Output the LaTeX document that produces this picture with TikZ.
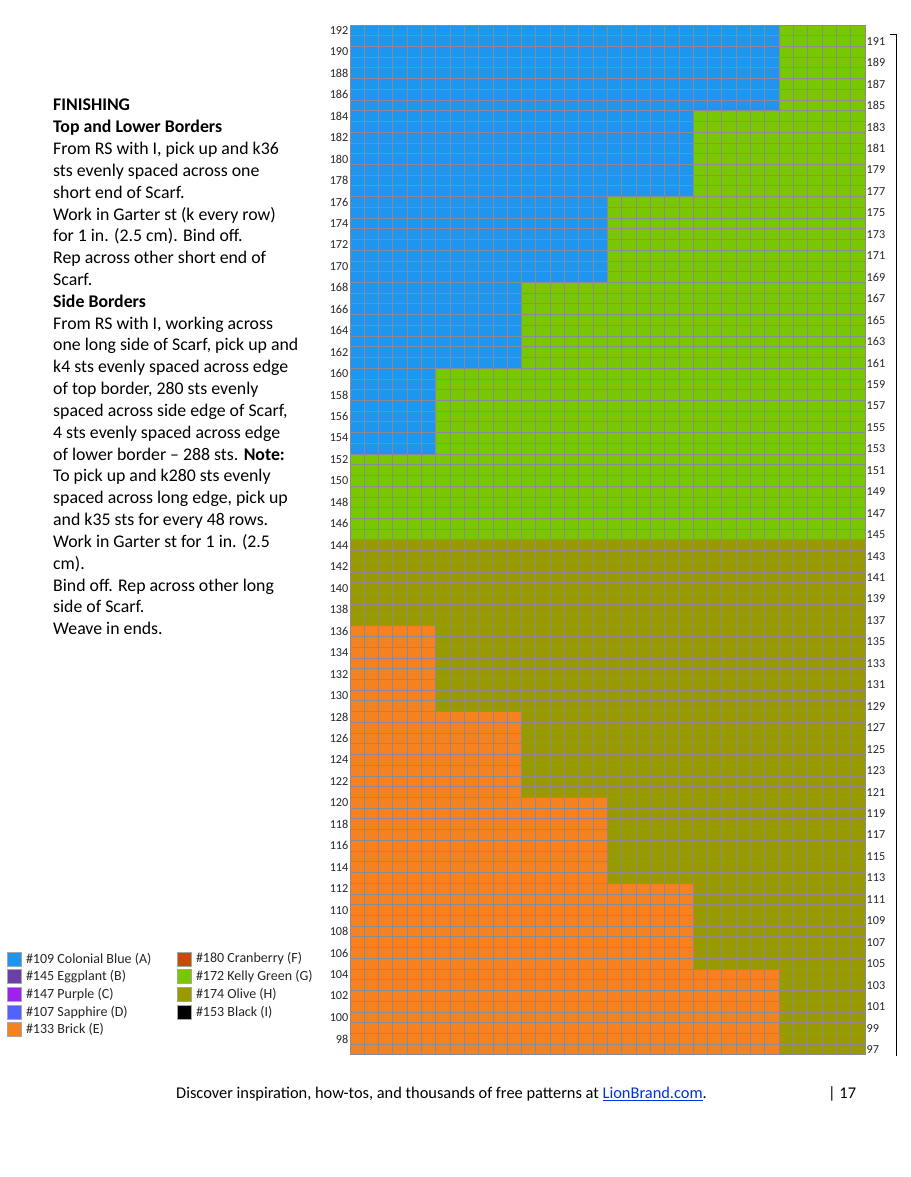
\documentclass[tikz,border=0pt]{standalone}
\usepackage{fontspec}
\setmainfont{Carlito}
\usetikzlibrary{positioning}
\definecolor{blue109}{HTML}{1E96F0}
\definecolor{eggplant145}{HTML}{6A3FA8}
\definecolor{purple147}{HTML}{A020F0}
\definecolor{sapphire107}{HTML}{5063FF}
\definecolor{brick133}{HTML}{F5821F}
\definecolor{cranberry180}{HTML}{C84B0C}
\definecolor{kelly172}{HTML}{78C700}
\definecolor{olive174}{HTML}{999900}
\definecolor{black153}{HTML}{000000}
\definecolor{gridgray}{HTML}{8A8A96}
\definecolor{linkblue}{HTML}{0033DD}
\tikzset{
  rowlab/.style={font=\fontsize{12.2}{13}\selectfont,inner sep=1.5pt,text=black!85},
  swatch/.style={draw=gray!70,line width=0.6pt,minimum size=14pt,inner sep=0pt},
  legtext/.style={font=\fontsize{14}{15}\selectfont,inner sep=0pt,text=black!85},
  bodytext/.style={font=\fontsize{17.8}{21.83}\selectfont,align=left,inner sep=0pt},
  foot/.style={font=\fontsize{16.4}{18}\selectfont,inner sep=0pt}
}
\begin{document}
\begin{tikzpicture}[x=1pt,y=1pt]
\useasboundingbox[fill=white] (0,0) rectangle (910,1177);
% chart: 36 sts x rows 97--192
\begin{scope}[shift={(350,122)},x=14.306pt,y=10.729pt]
\fill[olive174] (0,0) rectangle (36,48);
\fill[kelly172] (0,48) rectangle (36,96);
\foreach \r/\n in {0/30,8/24,16/18,24/12,32/6} { \fill[brick133] (0,\r) rectangle (\n,\r+8); }
\foreach \r/\n in {56/6,64/12,72/18,80/24,88/30} { \fill[blue109] (0,\r) rectangle (\n,\r+8); }
\draw[gridgray,line width=1pt,step=1] (0,0) grid (36,96);
\foreach \r in {98,100,...,192} { \node[rowlab,anchor=east] (row\r) at (0,\r-96.5) {\r}; }
\foreach \r in {97,99,...,191} { \node[rowlab,anchor=west] (row\r) at (36,\r-96.5) {\r}; }
\end{scope}
\draw[line width=1pt] (890,1142) -- (896,1142) -- (896,121);
% legend
\foreach \c/\t [count=\i from 0] in {blue109/{\#109 Colonial Blue (A)},eggplant145/{\#145 Eggplant (B)},purple147/{\#147 Purple (C)},sapphire107/{\#107 Sapphire (D)},brick133/{\#133 Brick (E)}} {
  \node[swatch,fill=\c] (swa\i) at (14.5,1177-959-17.7*\i) {};
  \node[legtext,right=4pt of swa\i] (lga\i) {\t};
}
\foreach \c/\t [count=\i from 0] in {cranberry180/{\#180 Cranberry (F)},kelly172/{\#172 Kelly Green (G)},olive174/{\#174 Olive (H)},black153/{\#153 Black (I)}} {
  \node[swatch,fill=\c] (swb\i) at (184.5,1177-959-17.7*\i) {};
  \node[legtext,right=4pt of swb\i] (lgb\i) {\t};
}
% finishing text
\node[bodytext,anchor=north west] (finish) at (53,1078) {\textbf{FINISHING}\\
\textbf{Top and Lower Borders}\\
From RS with I, pick up and k36\\
sts evenly spaced across one\\
short end of Scarf.\\
Work in Garter st (k every row)\\
for 1 in. (2.5 cm). Bind off.\\
Rep across other short end of\\
Scarf.\\
\textbf{Side Borders}\\
From RS with I, working across\\
one long side of Scarf, pick up and\\
k4 sts evenly spaced across edge\\
of top border, 280 sts evenly\\
spaced across side edge of Scarf,\\
4 sts evenly spaced across edge\\
of lower border -- 288 sts. \textbf{Note:}\\
To pick up and k280 sts evenly\\
spaced across long edge, pick up\\
and k35 sts for every 48 rows.\\
Work in Garter st for 1 in. (2.5\\
cm).\\
Bind off. Rep across other long\\
side of Scarf.\\
Weave in ends.};
% footer
\node[foot,anchor=base west] (disc) at (176,1177-1099) {Discover inspiration, how-tos, and thousands of free patterns at \textcolor{linkblue}{\underline{LionBrand.com}}.};
\node[foot,anchor=base west] (page) at (828,1177-1099) {| 17};
\end{tikzpicture}
\end{document}
